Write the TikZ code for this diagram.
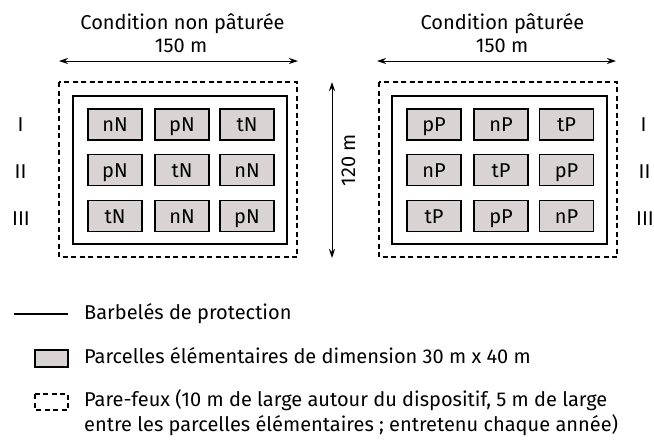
\documentclass[tikz,border=0pt]{standalone}
\usepackage{fontspec}
\setmainfont{Fira Sans}
\usepackage{tikz}
\usetikzlibrary{arrows.meta}

\definecolor{cellgray}{HTML}{D9D3D3}

\begin{document}
\begin{tikzpicture}[x=1pt,y=-1pt,
            cell/.style={draw,fill=cellgray,line width=1.2pt,minimum width=54pt,
                minimum height=31pt,inner sep=0pt,text height=14pt,text depth=0pt,
                font=\fontsize{20}{24}\selectfont},
            txt/.style={inner sep=0pt,anchor=base,font=\fontsize{20}{24}\selectfont},
            fence/.style={line width=2.8pt},
            fire/.style={line width=1.1pt,dash pattern=on 5pt off 3.5pt},
            dim/.style={{Stealth[length=9pt,width=6pt]}-{Stealth[length=9pt,width=6pt]},line width=1pt}]

            \useasboundingbox (0,0) rectangle (654,440);

            % titles and widths
            \node[txt] (tN) at (182.5,29) {Condition non pâturée};
            \node[txt] (wN) at (181,52) {150 m};
            \node[txt] (tP) at (502.5,29) {Condition pâturée};
            \node[txt] (wP) at (502,52) {150 m};
            \coordinate (wNa) at (59,61); \coordinate (wNb) at (298,61);
            \coordinate (wPa) at (377,61); \coordinate (wPb) at (616,61);
            \draw[dim] (wNa)--(wNb);
            \draw[dim] (wPa)--(wPb);

            % the common length between the two blocks
            \coordinate (ha) at (332,82); \coordinate (hb) at (332,258);
            \draw[dim] (ha)--(hb);
            \node[txt,rotate=90] (h) at (355,160) {120 m};

            % non grazed block
            \draw[fire]  (59,82) rectangle (297,257);
            \draw[fence] (73,96) rectangle (287,244);
            \node[cell] (n11) at (115,124.5) {nN};
            \node[cell] (n12) at (182,124.5) {pN};
            \node[cell] (n13) at (247,124.5) {tN};
            \node[cell] (n21) at (115,170) {pN};
            \node[cell] (n22) at (182,170) {tN};
            \node[cell] (n23) at (247,170) {nN};
            \node[cell] (n31) at (115,216) {tN};
            \node[cell] (n32) at (182,216) {nN};
            \node[cell] (n33) at (247,216) {pN};
            \node[txt] (rN1) at (20.5,131) {I};
            \node[txt] (rN2) at (20.5,178) {II};
            \node[txt] (rN3) at (21,225) {III};

            % grazed block
            \draw[fire]  (379,82) rectangle (617,257);
            \draw[fence] (392,96) rectangle (607,244);
            \node[cell] (p11) at (434,124.5) {pP};
            \node[cell] (p12) at (501,124.5) {nP};
            \node[cell] (p13) at (566.5,124.5) {tP};
            \node[cell] (p21) at (434,170) {nP};
            \node[cell] (p22) at (501,170) {tP};
            \node[cell] (p23) at (566.5,170) {pP};
            \node[cell] (p31) at (434,216) {tP};
            \node[cell] (p32) at (501,216) {pP};
            \node[cell] (p33) at (566.5,216) {nP};
            \node[txt] (rP1) at (643.5,131) {I};
            \node[txt] (rP2) at (644.5,178) {II};
            \node[txt] (rP3) at (645,225) {III};

            % legend
            \draw[line width=2pt] (14,314)--(68,314);
            \node[txt,anchor=base west] (l1) at (84,319) {Barbelés de protection};
            \draw[fill=cellgray,line width=1.2pt] (35,350) rectangle (68,367);
            \node[txt,anchor=base west] (l2) at (84,363) {Parcelles élémentaires de dimension 30 m x 40 m};
            \draw[fire] (35,394) rectangle (68,410);
            \node[txt,anchor=base west] (l3) at (84,406)
                {Pare-feux (10 m de large autour du dispositif, 5 m de large};
            \node[txt,anchor=base west] (l4) at (84,431)
                {entre les parcelles élémentaires ; entretenu chaque année)};
        \end{tikzpicture}
\end{document}
